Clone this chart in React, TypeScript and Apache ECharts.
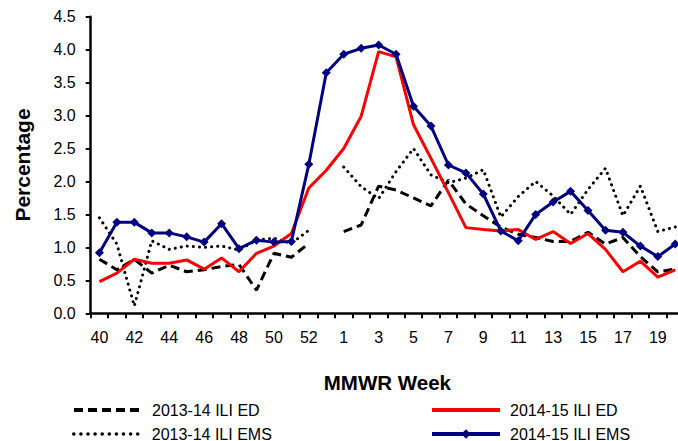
import React, { useEffect, useRef } from "react";
import * as echarts from "echarts";

const weeks: string[] = [
  "40", "41", "42", "43", "44", "45", "46", "47", "48", "49", "50", "51", "52", "53",
  "1", "2", "3", "4", "5", "6", "7", "8", "9", "10", "11", "12", "13", "14", "15", "16", "17", "18", "19", "20",
];

const ed1314: (number | null)[] = [
  0.82, 0.66, 0.82, 0.61, 0.73, 0.63, 0.66, 0.71, 0.74, 0.35, 0.91, 0.85, 1.06, null,
  1.24, 1.34, 1.93, 1.87, 1.75, 1.63, 2.02, 1.66, 1.48, 1.31, 1.2, 1.15, 1.09, 1.09, 1.23, 1.05, 1.15, 0.86, 0.63, 0.67,
];

const ems1314: (number | null)[] = [
  1.45, 1.05, 0.11, 1.1, 0.97, 1.02, 1.0, 1.02, 0.96, 1.11, 1.14, 1.06, 1.26, null,
  2.22, 1.92, 1.74, 2.15, 2.5, 2.1, 1.98, 2.05, 2.18, 1.46, 1.77, 2.0, 1.78, 1.5, 1.88, 2.2, 1.48, 1.93, 1.24, 1.31,
];

const ed1415: number[] = [
  0.48, 0.61, 0.82, 0.76, 0.76, 0.81, 0.67, 0.84, 0.63, 0.91, 1.02, 1.21, 1.9, 2.17,
  2.5, 2.99, 3.97, 3.89, 2.86, 2.35, 1.83, 1.3, 1.27, 1.25, 1.27, 1.12, 1.24, 1.06, 1.21, 0.97, 0.63, 0.79, 0.55, 0.66,
];

const ems1415: number[] = [
  0.92, 1.38, 1.38, 1.22, 1.22, 1.16, 1.08, 1.36, 0.98, 1.11, 1.08, 1.09, 2.26, 3.65,
  3.93, 4.02, 4.07, 3.93, 3.14, 2.84, 2.25, 2.13, 1.81, 1.25, 1.1, 1.5, 1.69, 1.85, 1.56, 1.26, 1.23, 1.02, 0.86, 1.05,
];

const names = ["2013-14 ILI ED", "2014-15 ILI ED", "2013-14 ILI EMS", "2014-15 ILI EMS"];

const FONT = "'Liberation Sans', Arial, sans-serif";

export default function App() {
  const ref = useRef<HTMLDivElement>(null);
  useEffect(() => {
    if (!ref.current) return;
    const chart = echarts.init(ref.current, undefined, { renderer: "svg" });
    const legendBase = {
      orient: "horizontal",
      itemWidth: 68,
      itemHeight: 12,
      padding: 0,
      textStyle: { fontFamily: FONT, fontSize: 16, color: "#000", padding: [0, 0, 0, 5] },
    };
    chart.setOption({
      animation: false,
      backgroundColor: "#fff",
      grid: { left: 90.7, top: 16.7, width: 593.3, height: 296.6, containLabel: false },
      xAxis: {
        type: "category",
        data: weeks,
        boundaryGap: true,
        name: "MMWR Week",
        nameLocation: "middle",
        nameGap: 59,
        nameTextStyle: { fontFamily: FONT, fontSize: 20.5, fontWeight: "bold", color: "#000" },
        axisLine: { lineStyle: { color: "#000", width: 2.5 } },
        axisTick: { show: true, interval: 0, length: 5, lineStyle: { color: "#000", width: 2 } },
        axisLabel: { interval: 1, fontFamily: FONT, fontSize: 16, color: "#000", margin: 16 },
        splitLine: { show: false },
      },
      yAxis: {
        type: "value",
        min: 0,
        max: 4.5,
        interval: 0.5,
        name: "Percentage",
        nameLocation: "middle",
        nameRotate: 90,
        nameGap: 58,
        nameTextStyle: { fontFamily: FONT, fontSize: 21, fontWeight: "bold", color: "#000" },
        axisLine: { show: true, lineStyle: { color: "#000", width: 2.5 } },
        axisTick: { show: true, length: 5, lineStyle: { color: "#000", width: 2 } },
        axisLabel: {
          fontFamily: FONT,
          fontSize: 16,
          color: "#000",
          margin: 15,
          formatter: (v: number) => v.toFixed(1),
        },
        splitLine: { show: false },
      },
      legend: [
        { ...legendBase, left: 72, top: 402, data: [names[0]], itemStyle: { opacity: 0 }, lineStyle: { width: 4, type: [9, 5] } },
        { ...legendBase, left: 430, top: 402, data: [names[1]], itemStyle: { opacity: 0 }, lineStyle: { width: 4 } },
        { ...legendBase, left: 72, top: 426, data: [names[2]], itemStyle: { opacity: 0 }, lineStyle: { width: 3.5, type: [0.1, 7], cap: "round" } },
        { ...legendBase, left: 430, top: 426, data: [names[3]], lineStyle: { width: 4 } },
      ],
      series: [
        {
          name: names[0],
          type: "line",
          data: ed1314,
          symbol: "none",
          connectNulls: false,
          lineStyle: { color: "#000", width: 3, type: [9, 5] },
          itemStyle: { color: "#000" },
          z: 2,
        },
        {
          name: names[1],
          type: "line",
          data: ed1415,
          symbol: "none",
          lineStyle: { color: "#ff0000", width: 3 },
          itemStyle: { color: "#ff0000" },
          z: 3,
        },
        {
          name: names[2],
          type: "line",
          data: ems1314,
          symbol: "none",
          connectNulls: false,
          lineStyle: { color: "#000", width: 3, type: [0.1, 6], cap: "round" },
          itemStyle: { color: "#000" },
          z: 2,
        },
        {
          name: names[3],
          type: "line",
          data: ems1415,
          symbol: "diamond",
          symbolSize: 9,
          showSymbol: true,
          lineStyle: { color: "#000080", width: 3 },
          itemStyle: { color: "#000080" },
          z: 4,
        },
      ],
    });
    return () => chart.dispose();
  }, []);
  return (
    <div
      style={{
        position: "fixed",
        left: 0,
        top: 0,
        width: 678,
        height: 441,
        overflow: "hidden",
        background: "#fff",
      }}
    >
      <div ref={ref} style={{ width: 720, height: 441 }} />
    </div>
  );
}
